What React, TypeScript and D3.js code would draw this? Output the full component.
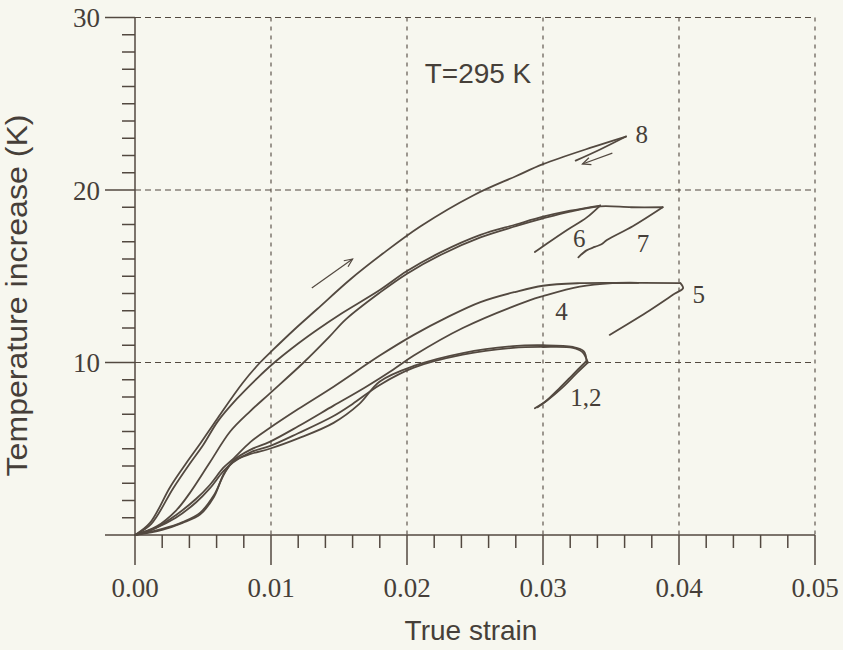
import * as d3 from 'd3'

// T = 295 K, temperature increase vs true strain, load / unload cycles
const load8 = [[0,0],[0.0011,0.7],[0.0026,2.8],[0.0038,4.2],[0.0048,5.3],[0.0061,6.8],[0.0079,8.8],[0.0092,10.0],[0.0101,10.7],[0.0117,11.9],[0.0134,13.1],[0.0158,14.8],[0.0182,16.3],[0.021,17.9],[0.0249,19.7],[0.028,20.8],[0.030,21.5],[0.0337,22.5],[0.0361,23.1]]
const unload8 = [[0.0361,23.1],[0.0342,22.35],[0.0324,21.7]]

const load6 = [[0,0],[0.0012,0.65],[0.0028,2.7],[0.004,4.1],[0.005,5.2],[0.0061,6.6],[0.0075,7.9],[0.009,9.1],[0.0101,9.9],[0.012,11.1],[0.0134,11.9],[0.0151,12.8],[0.018,14.2],[0.020,15.3],[0.0225,16.4],[0.0254,17.4],[0.028,18.0],[0.030,18.45],[0.032,18.8],[0.0342,19.1]]
const unload6 = [[0.0342,19.1],[0.0332,18.4],[0.0318,17.7],[0.0303,16.9],[0.0294,16.4]]

const load7 = [[0,0],[0.0016,0.5],[0.003,1.4],[0.004,2.4],[0.0055,4.2],[0.007,6.0],[0.0085,7.2],[0.0099,8.2],[0.0124,10.0],[0.0143,11.5],[0.0155,12.5],[0.018,14.05],[0.020,15.15],[0.0225,16.25],[0.0254,17.25],[0.028,17.9],[0.030,18.35],[0.032,18.75],[0.0342,19.05],[0.0365,19.0],[0.0388,19.0]]
const unload7 = [[0.0388,19.0],[0.0366,17.9],[0.0347,17.1],[0.0343,16.85],[0.0338,16.7],[0.0332,16.5],[0.0326,16.1]]

const load5 = [[0,0],[0.0015,0.4],[0.003,1.15],[0.0045,2.1],[0.0055,2.9],[0.0065,3.9],[0.0072,4.4],[0.0085,5.4],[0.0099,6.2],[0.012,7.3],[0.0146,8.6],[0.018,10.4],[0.0205,11.6],[0.0229,12.6],[0.0254,13.5],[0.028,14.1],[0.030,14.45],[0.0327,14.6],[0.035,14.62],[0.0401,14.6]]
const unload5 = [[0.0401,14.6],[0.0403,14.3],[0.0397,14.0],[0.0376,12.9],[0.0349,11.6]]

const load4 = [[0,0],[0.002,0.3],[0.0035,0.7],[0.0048,1.2],[0.0058,2.2],[0.0065,3.5],[0.0072,4.3],[0.0085,4.95],[0.0099,5.4],[0.012,6.3],[0.0146,7.5],[0.017,8.6],[0.019,9.6],[0.0205,10.4],[0.0241,12.0],[0.029,13.6],[0.030,13.85],[0.0327,14.4],[0.0351,14.6],[0.037,14.62]]

const load1 = [[0,0],[0.0015,0.4],[0.003,1.0],[0.0045,1.9],[0.0055,2.7],[0.0065,3.7],[0.0072,4.2],[0.0085,4.8],[0.0099,5.15],[0.012,5.9],[0.0146,6.9],[0.016,7.6],[0.018,8.7],[0.0205,9.7],[0.0241,10.45],[0.0278,10.85],[0.030,10.9],[0.0322,10.85],[0.0329,10.6],[0.0333,10.0]]
const unload1 = [[0.0333,10.0],[0.0325,9.4],[0.0315,8.6],[0.0303,7.8],[0.0294,7.35]]
const load2 = [[0,0],[0.002,0.35],[0.0035,0.75],[0.0048,1.3],[0.0058,2.3],[0.0066,3.6],[0.0073,4.3],[0.0085,4.7],[0.0099,5.0],[0.012,5.6],[0.0146,6.5],[0.0165,7.6],[0.018,8.9],[0.0205,9.8],[0.0241,10.55],[0.0278,10.95],[0.030,11.0],[0.0322,10.9],[0.033,10.65],[0.0332,10.1]]
const unload2 = [[0.0332,10.1],[0.0322,9.3],[0.0312,8.5],[0.0302,7.75],[0.0296,7.4]]

const curves = [load8, unload8, load6, unload6, load7, unload7, load5, unload5, load4, load1, unload1, load2, unload2]

const curveLabels = [
  { text: '8', at: [0.0368, 22.72] },
  { text: '6', at: [0.0322, 16.7] },
  { text: '7', at: [0.0369, 16.4] },
  { text: '5', at: [0.0410, 13.45] },
  { text: '4', at: [0.0309, 12.46] },
  { text: '1,2', at: [0.0320, 7.48] },
]
// direction arrows: loading (up) and unloading (down)
const arrows = [
  [[0.0130, 14.32], [0.0160, 16.0]],
  [[0.0351, 22.14], [0.0329, 21.51]],
]

const xTicks = [0, 0.01, 0.02, 0.03, 0.04, 0.05]
const xTickLabels = ['0.00', '0.01', '0.02', '0.03', '0.04', '0.05']
const yTicks = [10, 20, 30]
const yTickLabels = ['10', '20', '30']

const W = 843, H = 650
const ink = '#534940'
const textInk = '#463f39'
const serif = '"Liberation Serif", "DejaVu Serif", serif'
const sans = '"Liberation Sans", Arial, sans-serif'

const x = d3.scaleLinear().domain([0, 0.05]).range([135, 815])
const y = d3.scaleLinear().domain([0, 30]).range([535, 17.5])

const line = d3.line<number[]>()
  .x(d => x(d[0]))
  .y(d => y(d[1]))
  .curve(d3.curveCatmullRom.alpha(0.5))

const arrowHead = (a: number[], b: number[]) => {
  const x1 = x(a[0]), y1 = y(a[1]), x2 = x(b[0]), y2 = y(b[1])
  const ang = Math.atan2(y2 - y1, x2 - x1)
  const len = 9, spread = 0.42
  const p1 = [x2 - len * Math.cos(ang - spread), y2 - len * Math.sin(ang - spread)]
  const p2 = [x2 - len * Math.cos(ang + spread), y2 - len * Math.sin(ang + spread)]
  return `M${p1[0]},${p1[1]}L${x2},${y2}L${p2[0]},${p2[1]}`
}

export default function App() {
  const x0 = x(0), x1 = x(0.05), y0 = y(0), y1 = y(30)
  const xMinor = d3.range(0, 0.0501, 0.002).filter(v => Math.abs(v * 100 - Math.round(v * 100)) > 1e-6)
  const yMinor = d3.range(1, 30, 1).filter(v => v % 10 !== 0)

  return (
    <svg width={W} height={H} style={{ position: 'absolute', left: 0, top: 0, background: '#f7f7ef' }}>
      <rect width={W} height={H} fill="#f7f7ef" />

      {/* grid */}
      <g stroke={ink} strokeWidth={1.1} fill="none">
        {yTicks.map(t => (
          <line key={'gy' + t} x1={x0} x2={x1} y1={y(t)} y2={y(t)} strokeDasharray="6,4" />
        ))}
        {xTicks.slice(1).map(t => (
          <line key={'gx' + t} x1={x(t)} x2={x(t)} y1={y1} y2={y0} strokeDasharray="4,5" />
        ))}
      </g>

      {/* axes */}
      <g stroke={ink} strokeWidth={1.5} fill="none">
        <line x1={x0} x2={x0} y1={y1} y2={y0} />
        <line x1={105} x2={x1} y1={y0} y2={y0} />
        {yTicks.map(t => <line key={'My' + t} x1={105} x2={x0} y1={y(t)} y2={y(t)} />)}
        {yMinor.map(t => <line key={'my' + t} x1={122} x2={x0} y1={y(t)} y2={y(t)} />)}
        {xTicks.map(t => <line key={'Mx' + t} x1={x(t)} x2={x(t)} y1={y0} y2={y0 + 30} />)}
        {xMinor.map(t => <line key={'mx' + t} x1={x(t)} x2={x(t)} y1={y0} y2={y0 + 13} />)}
      </g>

      {/* tick labels */}
      <g fill={textInk} fontFamily={serif} fontSize={27}>
        {xTicks.map((t, i) => (
          <text key={'lx' + t} x={x(t)} y={597} textAnchor="middle">{xTickLabels[i]}</text>
        ))}
        {yTicks.map((t, i) => (
          <text key={'ly' + t} x={100} y={y(t) + 9.5} textAnchor="end">{yTickLabels[i]}</text>
        ))}
      </g>

      {/* axis titles */}
      <text x={471} y={640} textAnchor="middle" fontFamily={sans} fontSize={28} fill={textInk}>True strain</text>
      <text transform="translate(27,295.5) rotate(-90)" textAnchor="middle" fontFamily={sans} fontSize={30}
        fill={textInk} textLength={362} lengthAdjust="spacingAndGlyphs">Temperature increase (K)</text>
      <text x={x(0.0213)} y={y(26.2)} fontFamily={sans} fontSize={28} fill={textInk}>T=295 K</text>

      {/* curves */}
      <g stroke={ink} strokeWidth={1.8} fill="none" strokeLinejoin="round" strokeLinecap="round">
        {curves.map((c, i) => <path key={'c' + i} d={line(c) || ''} />)}
      </g>

      {/* arrows */}
      <g stroke={ink} strokeWidth={1.2} fill="none">
        {arrows.map((a, i) => (
          <g key={'a' + i}>
            <line x1={x(a[0][0])} y1={y(a[0][1])} x2={x(a[1][0])} y2={y(a[1][1])} />
            <path d={arrowHead(a[0], a[1])} />
          </g>
        ))}
      </g>

      {/* curve labels */}
      <g fill={textInk} fontFamily={serif} fontSize={25}>
        {curveLabels.map(l => (
          <text key={'cl' + l.text} x={x(l.at[0])} y={y(l.at[1])}>{l.text}</text>
        ))}
      </g>
    </svg>
  )
}
